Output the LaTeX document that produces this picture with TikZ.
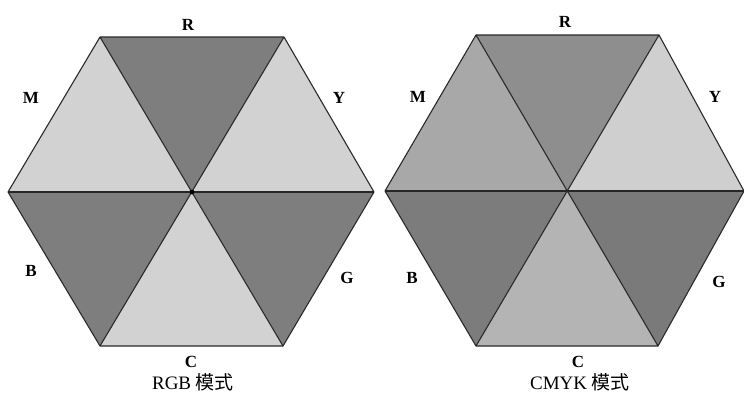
\documentclass[tikz,border=0pt]{standalone}
\usepackage{fontspec}
\setmainfont{Liberation Serif}
\newfontfamily\cjk{Noto Sans CJK SC}
\definecolor{lgray}{HTML}{D2D2D2}
\definecolor{dgray}{HTML}{7E7E7E}
\definecolor{rR}{HTML}{8E8E8E}
\definecolor{rM}{HTML}{A8A8A8}
\definecolor{rY}{HTML}{CFCFCF}
\definecolor{rB}{HTML}{7C7C7C}
\definecolor{rG}{HTML}{7A7A7A}
\definecolor{rC}{HTML}{B4B4B4}
\definecolor{edge}{HTML}{2A2A2A}
\begin{document}
\begin{tikzpicture}[x=1pt,y=-1pt,
  tri/.style={draw=edge,line width=1.1pt,line join=round},
  midline/.style={draw=black!85,line width=2.2pt},
  lab/.style={font=\fontsize{17}{17}\selectfont\bfseries,inner sep=0pt},
  titletext/.style={font=\fontsize{19}{19}\selectfont,inner sep=0pt,anchor=base}]
\useasboundingbox (0,0) rectangle (744,399);
% ---------- left hexagon (RGB) ----------
\coordinate (lO) at (192,192);
\coordinate (lA) at (100,37);
\coordinate (lB) at (284,37);
\coordinate (lR) at (374,192);
\coordinate (lC) at (283,346);
\coordinate (lD) at (100,346);
\coordinate (lL) at (8,192);
\fill[dgray] (lO) -- (lA) -- (lB) -- cycle;
\fill[lgray] (lO) -- (lB) -- (lR) -- cycle;
\fill[dgray] (lO) -- (lR) -- (lC) -- cycle;
\fill[lgray] (lO) -- (lC) -- (lD) -- cycle;
\fill[dgray] (lO) -- (lD) -- (lL) -- cycle;
\fill[lgray] (lO) -- (lL) -- (lA) -- cycle;
\draw[tri] (lA) -- (lB) -- (lR) -- (lC) -- (lD) -- (lL) -- cycle;
\draw[tri] (lA) -- (lC) (lB) -- (lD);
\draw[midline] (lL) -- (lR);
\fill[black] (lO) circle (2.4pt);
\node[lab] (lRl) at (188,25) {R};
\node[lab] (lMl) at (31,98) {M};
\node[lab] (lYl) at (339,98) {Y};
\node[lab] (lBl) at (31,271) {B};
\node[lab] (lGl) at (347,278) {G};
\node[lab] (lCl) at (191,362) {C};
\node[titletext] (lT) at (193,389) {RGB {\cjk 模式}};
% ---------- right hexagon (CMYK) ----------
\coordinate (rO) at (567,191);
\coordinate (rA) at (476,35);
\coordinate (rB) at (659,35);
\coordinate (rR) at (744,191);
\coordinate (rC) at (658,346);
\coordinate (rD) at (476,346);
\coordinate (rL) at (385,191);
\fill[rR] (rO) -- (rA) -- (rB) -- cycle;
\fill[rY] (rO) -- (rB) -- (rR) -- cycle;
\fill[rG] (rO) -- (rR) -- (rC) -- cycle;
\fill[rC] (rO) -- (rC) -- (rD) -- cycle;
\fill[rB] (rO) -- (rD) -- (rL) -- cycle;
\fill[rM] (rO) -- (rL) -- (rA) -- cycle;
\draw[tri] (rA) -- (rB) -- (rR) -- (rC) -- (rD) -- (rL) -- cycle;
\draw[tri] (rA) -- (rC) (rB) -- (rD);
\draw[midline] (rL) -- (rR);
\node[lab] (rRl) at (565,22) {R};
\node[lab] (rMl) at (418,97) {M};
\node[lab] (rYl) at (715,97) {Y};
\node[lab] (rBl) at (412,278) {B};
\node[lab] (rGl) at (719,282) {G};
\node[lab] (rCl) at (578,362) {C};
\node[titletext] (rT) at (580,389) {CMYK {\cjk 模式}};
\end{tikzpicture}
\end{document}
